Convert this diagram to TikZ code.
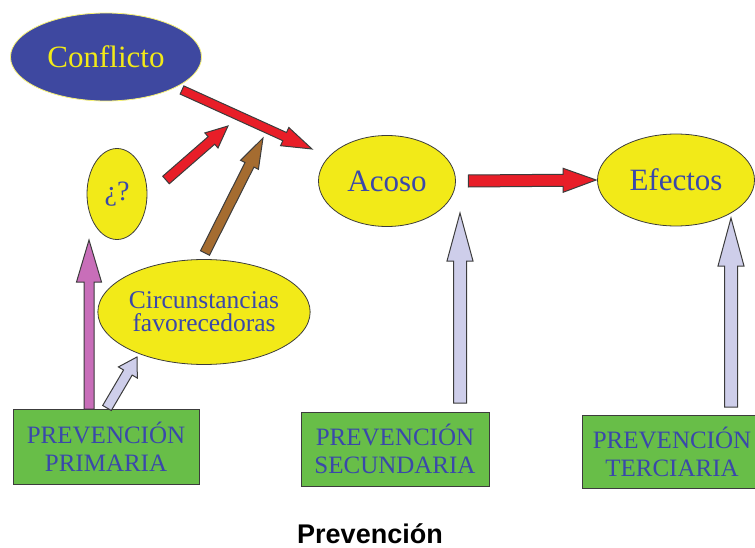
\documentclass[tikz,border=0pt]{standalone}
\usepackage{fontspec}
\setmainfont{Liberation Serif}
\setsansfont{Liberation Sans}
\usetikzlibrary{shapes.geometric,calc}

\definecolor{txtblue}{RGB}{58,72,170}
\definecolor{confblue}{RGB}{62,72,160}
\definecolor{ovalyellow}{RGB}{242,234,24}
\definecolor{boxgreen}{RGB}{104,190,72}
\definecolor{arrred}{RGB}{232,30,40}
\definecolor{arrbrown}{RGB}{165,108,48}
\definecolor{arrpink}{RGB}{200,110,185}
\definecolor{arrlav}{RGB}{206,206,234}
\definecolor{edge}{RGB}{60,60,60}

\newcommand{\fatarrow}[6]{%
  \path[fill=#1,draw=edge,line width=1pt,line join=miter]
    let \p1=($(#3)-(#2)$), \n1={veclen(\x1,\y1)}, \n2={atan2(\y1,\x1)} in
    ($(#2)+(\n2+90:#4)$) -- ($(#2)+(\n2+90:#4)+(\n2:\n1-#6)$)
    -- ($(#2)+(\n2+90:#5)+(\n2:\n1-#6)$) -- (#3)
    -- ($(#2)+(\n2-90:#5)+(\n2:\n1-#6)$) -- ($(#2)+(\n2-90:#4)+(\n2:\n1-#6)$)
    -- ($(#2)+(\n2-90:#4)$) -- cycle;}

\tikzset{
  oval/.style={ellipse, fill=ovalyellow, draw=edge, line width=0.8pt, text=txtblue,
    inner sep=0pt, align=center, font=\fontsize{31}{34}\selectfont},
  prev/.style={rectangle, fill=boxgreen, draw=edge, line width=0.8pt, text=txtblue,
    inner sep=0pt, align=center, font=\fontsize{25}{28}\selectfont},
}

\begin{document}
\begin{tikzpicture}[x=1pt,y=-1pt]
      \useasboundingbox (0,0) rectangle (755,548);

      \node[oval,fill=confblue,draw=ovalyellow!60!white,text=ovalyellow,minimum width=191pt,minimum height=88pt] (conflicto) at (106,57) {Conflicto};
      \node[oval,minimum width=60pt,minimum height=91pt,font=\fontsize{28}{30}\selectfont] (preg) at (117,194) {¿?};
      \node[oval,minimum width=187pt,minimum height=105pt,font=\fontsize{25.5}{23}\selectfont] (circ) at (204,312) {Circunstancias\\favorecedoras};
      \node[oval,minimum width=137pt,minimum height=91pt] (acoso) at (387,181) {Acoso};
      \node[oval,minimum width=157pt,minimum height=92pt] (efectos) at (676,180) {Efectos};

      \node[prev,minimum width=186pt,minimum height=75pt] (primaria) at (106,446.5) {PREVENCIÓN\\PRIMARIA};
      \node[prev,minimum width=188pt,minimum height=74pt] (secundaria) at (395,449) {PREVENCIÓN\\SECUNDARIA};
      \node[prev,minimum width=180pt,minimum height=73pt] (terciaria) at (672,451.5) {PREVENCIÓN\\TERCIARIA};

      \node[anchor=base,font=\sffamily\bfseries\fontsize{27}{30}\selectfont] (titulo) at (370,543) {Prevención};

      \coordinate (conf-out) at (182,90);
      \coordinate (acoso-in) at (312,149);
      \coordinate (preg-out) at (166,180);
      \coordinate (junta1) at (228,126);
      \coordinate (circ-out) at (205,253);
      \coordinate (junta2) at (263,138);
      \coordinate (acoso-out) at ($(acoso.east)+(12.5,0)$);
      \coordinate (efectos-in) at ($(efectos.west)+(-1,0)$);
      \coordinate (prim-a) at (89,409);
      \coordinate (preg-in) at (89,240);
      \coordinate (prim-b) at (107,408);
      \coordinate (circ-in) at (137,357);
      \coordinate (sec-out) at (460,403);
      \coordinate (acoso-up) at (460,213);
      \coordinate (ter-out) at (731,407);
      \coordinate (efectos-up) at (731,218);

      \fatarrow{arrred}{conf-out}{acoso-in}{4.5pt}{10pt}{30pt}
      \fatarrow{arrred}{preg-out}{junta1}{5pt}{10pt}{22pt}
      \fatarrow{arrbrown}{circ-out}{junta2}{5pt}{10pt}{30pt}
      \fatarrow{arrred}{acoso-out}{efectos-in}{6pt}{12pt}{33pt}
      \fatarrow{arrpink}{prim-a}{preg-in}{5pt}{12.5pt}{42pt}
      \fatarrow{arrlav}{prim-b}{circ-in}{5pt}{11pt}{18pt}
      \fatarrow{arrlav}{sec-out}{acoso-up}{6.5pt}{13pt}{48pt}
      \fatarrow{arrlav}{ter-out}{efectos-up}{6.5pt}{13pt}{48pt}
    \end{tikzpicture}
\end{document}
